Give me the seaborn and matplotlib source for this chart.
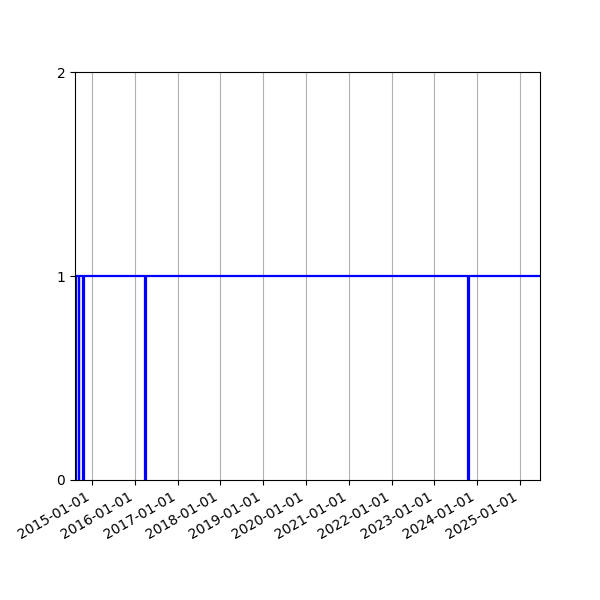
import pandas as pd
import matplotlib
matplotlib.use("Agg")
import matplotlib.pyplot as plt
import matplotlib.dates as mdates
import seaborn as sns

# 状態の変化点（日付と値）
dates = ["2014-08-10", "2014-08-20", "2014-09-11", "2014-09-15",
         "2014-10-21", "2014-10-27", "2016-03-30", "2016-04-06",
         "2023-10-18", "2023-10-24", "2025-06-20"]
status = [0, 1, 0, 1, 0, 1, 0, 1, 0, 1, 1]

df = pd.DataFrame({"date": pd.to_datetime(dates), "status": status})

fig, ax = plt.subplots(figsize=(6, 6), dpi=100)
sns.lineplot(data=df, x="date", y="status", drawstyle="steps-post",
             color="blue", linewidth=1.6, ax=ax)

ax.set_xlim(df["date"].iloc[0], df["date"].iloc[-1])
ax.set_ylim(0, 2)
ax.set_yticks([0, 1, 2])
ax.xaxis.set_major_locator(mdates.YearLocator())
ax.xaxis.set_major_formatter(mdates.DateFormatter("%Y-%m-%d"))
ax.grid(axis="x")
ax.set_xlabel("")
ax.set_ylabel("")
fig.autofmt_xdate()

plt.savefig("out.png")
plt.close()
